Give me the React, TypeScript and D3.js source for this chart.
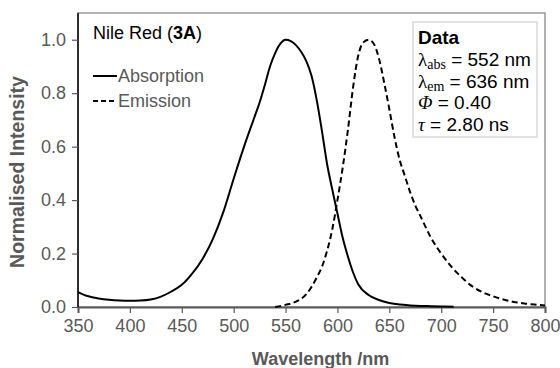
import React, { useEffect, useRef } from 'react';
import * as d3 from 'd3';

// absorption spectrum (nm, normalised)
const absWavelength = [350, 360, 370, 380, 390, 400, 410, 420, 430, 440, 450, 460, 470, 480, 490, 500, 510, 520, 525, 530, 535, 540, 545, 550, 555, 560, 565, 570, 575, 580, 585, 590, 595, 600, 605, 610, 615, 620, 630, 640, 650, 660, 670, 680, 690, 700, 712];
const absIntensity = [0.056, 0.040, 0.032, 0.027, 0.024, 0.023, 0.024, 0.028, 0.039, 0.058, 0.083, 0.125, 0.18, 0.255, 0.355, 0.48, 0.60, 0.71, 0.765, 0.83, 0.9, 0.95, 0.985, 1.0, 0.995, 0.98, 0.955, 0.92, 0.865, 0.775, 0.66, 0.535, 0.44, 0.35, 0.26, 0.19, 0.13, 0.085, 0.045, 0.026, 0.015, 0.009, 0.006, 0.004, 0.003, 0.002, 0.001];

// emission spectrum
const emWavelength = [540, 550, 560, 570, 575, 580, 585, 590, 595, 600, 605, 610, 615, 620, 625, 630, 635, 640, 645, 650, 655, 660, 665, 670, 675, 680, 690, 700, 710, 720, 730, 740, 750, 760, 770, 780, 790, 800];
const emIntensity = [0.0, 0.008, 0.02, 0.048, 0.075, 0.11, 0.15, 0.21, 0.29, 0.40, 0.52, 0.66, 0.82, 0.94, 0.99, 1.0, 0.985, 0.93, 0.84, 0.74, 0.635, 0.55, 0.49, 0.43, 0.38, 0.34, 0.26, 0.20, 0.15, 0.11, 0.077, 0.055, 0.04, 0.028, 0.019, 0.013, 0.009, 0.006];

const xTicks = [350, 400, 450, 500, 550, 600, 650, 700, 750, 800];
const yTicks = [0, 0.2, 0.4, 0.6, 0.8, 1.0];

const App = () => {
  const svgRef = useRef<SVGSVGElement>(null);

  useEffect(() => {
    const W = 560;
    const H = 368;
    const margin = { top: 13, right: 15, bottom: 61, left: 78 };
    const width = W - margin.left - margin.right;
    const height = H - margin.top - margin.bottom;
    const grey = '#595959';
    const sans = '"Liberation Sans", Arial, sans-serif';
    const serif = '"Liberation Serif", "DejaVu Serif", serif';

    const root = d3.select(svgRef.current);
    root.selectAll('*').remove();
    const svg = root.append('g').attr('transform', `translate(${margin.left},${margin.top})`);

    const x = d3.scaleLinear().domain([350, 800]).range([0, width]);
    const y = d3.scaleLinear().domain([0, 1.1]).range([height, 0]);

    // frame (top/right)
    svg.append('rect')
      .attr('x', 0).attr('y', 0).attr('width', width).attr('height', height)
      .attr('fill', 'none').attr('stroke', '#7f7f7f').attr('stroke-width', 1.2);

    const xAxis = svg.append('g')
      .attr('transform', `translate(0,${height})`)
      .call(d3.axisBottom(x).tickValues(xTicks).tickSize(6).tickPadding(6).tickFormat(d3.format('d')));
    xAxis.select('.domain').attr('stroke', grey).attr('stroke-width', 2);
    xAxis.selectAll('line').attr('stroke', grey).attr('stroke-width', 1.2);
    xAxis.selectAll('text').attr('fill', grey).style('font-family', sans).style('font-size', '18px');

    const yAxis = svg.append('g')
      .call(d3.axisLeft(y).tickValues(yTicks).tickSize(6).tickPadding(6).tickFormat(d3.format('.1f')));
    yAxis.select('.domain').attr('stroke', '#000').attr('stroke-width', 1.5)
      .attr('d', `M0,${height}V0`);
    yAxis.selectAll('line').attr('stroke', grey).attr('stroke-width', 1.2);
    yAxis.selectAll('text').attr('fill', grey).style('font-family', sans).style('font-size', '18px');

    // axis titles
    svg.append('text')
      .attr('x', width / 2 + 9).attr('y', height + 58)
      .attr('text-anchor', 'middle').attr('fill', grey)
      .style('font-family', sans).style('font-size', '18px').style('font-weight', 'bold')
      .text('Wavelength /nm');
    svg.append('text')
      .attr('transform', `translate(${-54},${height / 2 + 12}) rotate(-90)`)
      .attr('text-anchor', 'middle').attr('fill', grey)
      .style('font-family', sans).style('font-size', '19.5px').style('font-weight', 'bold')
      .text('Normalised Intensity');

    const line = d3.line<[number, number]>()
      .x(d => x(d[0]))
      .y(d => y(d[1]))
      .curve(d3.curveMonotoneX);

    const absData = absWavelength.map((w, i) => [w, absIntensity[i]] as [number, number]);
    const emData = emWavelength.map((w, i) => [w, emIntensity[i]] as [number, number]);

    svg.append('path')
      .datum(absData)
      .attr('fill', 'none').attr('stroke', '#000').attr('stroke-width', 2)
      .attr('d', line);
    svg.append('path')
      .datum(emData)
      .attr('fill', 'none').attr('stroke', '#000').attr('stroke-width', 2)
      .attr('stroke-dasharray', '6,3.5')
      .attr('d', line);

    // title + legend
    const title = svg.append('text')
      .attr('x', 15).attr('y', 26).attr('fill', '#000')
      .style('font-family', sans).style('font-size', '18px');
    title.append('tspan').text('Nile Red (');
    title.append('tspan').style('font-weight', 'bold').text('3A');
    title.append('tspan').text(')');

    const legend = [
      { label: 'Absorption', dash: null, y: 63 },
      { label: 'Emission', dash: '5,3', y: 88 },
    ];
    legend.forEach(l => {
      svg.append('line')
        .attr('x1', 15).attr('x2', 39).attr('y1', l.y).attr('y2', l.y)
        .attr('stroke', '#000').attr('stroke-width', 2)
        .attr('stroke-dasharray', l.dash);
      svg.append('text')
        .attr('x', 40).attr('y', l.y + 6).attr('fill', grey)
        .style('font-family', sans).style('font-size', '18px')
        .text(l.label);
    });

    // data box
    const bx = 335, by = 9;
    svg.append('rect')
      .attr('x', bx).attr('y', by).attr('width', 124).attr('height', 115)
      .attr('fill', '#fff').attr('stroke', '#d9d9d9').attr('stroke-width', 1.5);
    const tx = bx + 5;
    svg.append('text')
      .attr('x', tx).attr('y', by + 22).attr('fill', '#000')
      .style('font-family', sans).style('font-size', '19px').style('font-weight', 'bold')
      .text('Data');
    const rows = [
      { sym: 'λ', sub: 'abs', italic: false, rest: ' = 552 nm' },
      { sym: 'λ', sub: 'em', italic: false, rest: ' = 636 nm' },
      { sym: 'Φ', sub: '', italic: true, rest: ' = 0.40' },
      { sym: 'τ', sub: '', italic: true, rest: ' = 2.80 ns' },
    ];
    rows.forEach((r, i) => {
      const t = svg.append('text')
        .attr('x', tx).attr('y', by + 44 + i * 21.5).attr('fill', '#000')
        .style('font-family', sans).style('font-size', '19px');
      t.append('tspan').style('font-family', serif)
        .style('font-style', r.italic ? 'italic' : 'normal').text(r.sym);
      if (r.sub) {
        t.append('tspan').style('font-family', serif).style('font-size', '14px')
          .attr('dy', 3).text(r.sub);
        t.append('tspan').attr('dy', -3).text(r.rest);
      } else {
        t.append('tspan').text(r.rest);
      }
    });
  }, []);

  return (
    <svg ref={svgRef} width={560} height={368}
      style={{ position: 'absolute', left: 0, top: 0, background: '#fff' }} />
  );
};

export default App;
